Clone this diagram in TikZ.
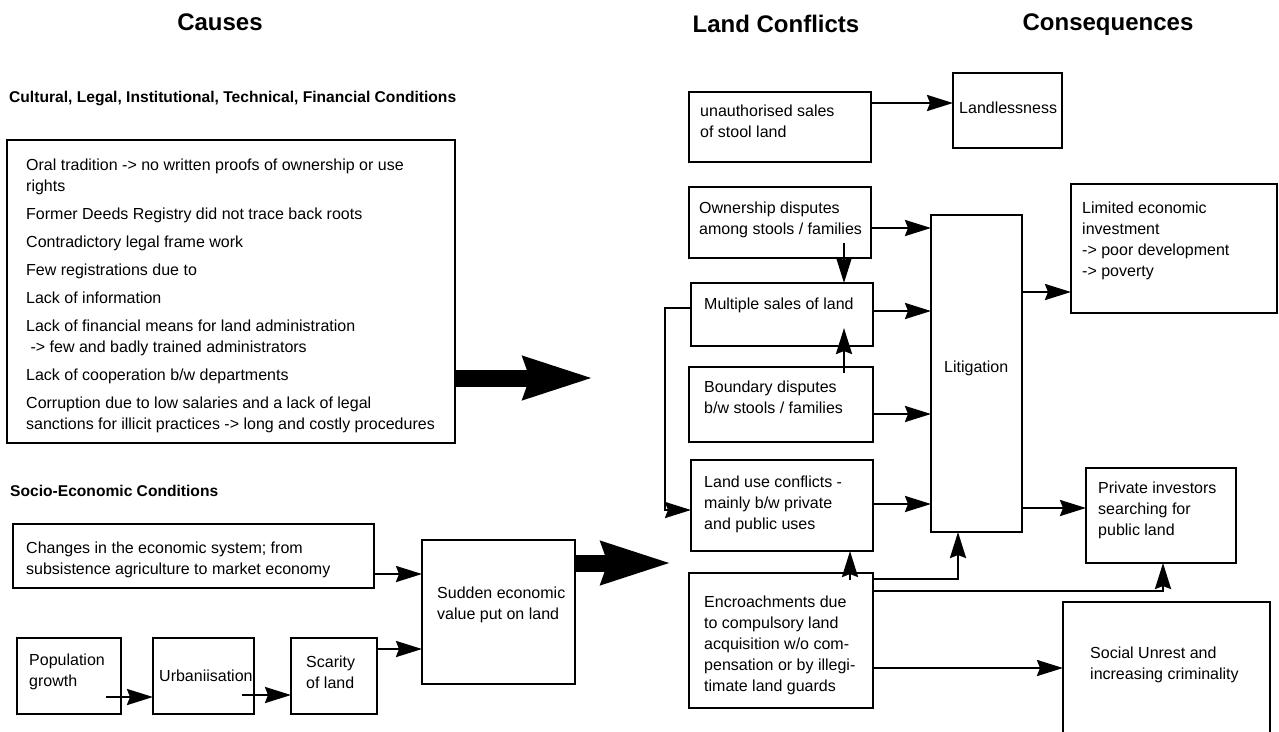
\documentclass[tikz,border=0pt]{standalone}
\usepackage{fontspec}
\setmainfont{Liberation Sans}
\usetikzlibrary{arrows.meta, calc}

\begin{document}
\begin{tikzpicture}[
  x=1pt, y=-1pt,
  box/.style={draw, line width=2.6pt, anchor=north west, inner sep=0pt, outer sep=0pt},
  txt/.style={anchor=base west, align=left, inner sep=0pt, font=\fontsize{16}{21}\selectfont},
  title/.style={anchor=base, inner sep=0pt, font=\fontsize{24}{28}\selectfont\bfseries},
  head/.style={anchor=base west, inner sep=0pt, font=\fontsize{15.6}{19}\selectfont\bfseries},
  arr/.style={-{Stealth[length=26pt, width=16pt, inset=3pt]}, line width=2.5pt},
  fat/.style={-{Stealth[length=69pt, width=40pt, inset=5pt]}, line width=17pt},
]
\useasboundingbox (0,0) rectangle (1279,731);
\clip (0,0) rectangle (1279,731);

% column titles
\node[title] (t-causes) at (220,30) {Causes};
\node[title] (t-conflicts) at (776,32) {Land Conflicts};
\node[title] (t-conseq) at (1108,30) {Consequences};
\node[head] (h-cult) at (9,102) {Cultural, Legal, Institutional, Technical, Financial Conditions};
\node[head] (h-socio) at (10,496) {Socio-Economic Conditions};

% causes (text nodes sit on the baseline of their last line)
\node[box, minimum width=448, minimum height=303] (big) at (7,140) {};
\node[txt] (big-t) at (26,429) {Oral tradition -> no written proofs of ownership or use\\rights\\[7pt]Former Deeds Registry did not trace back roots\\[7pt]Contradictory legal frame work\\[7pt]Few registrations due to\\[7pt]Lack of information\\[7pt]Lack of financial means for land administration\\\ -> few and badly trained administrators\\[7pt]Lack of cooperation b/w departments\\[7pt]Corruption due to low salaries and a lack of legal\\sanctions for illicit practices -> long and costly procedures};
\node[box, minimum width=361, minimum height=64] (changes) at (13,524) {};
\node[txt] (changes-t) at (26,574) {Changes in the economic system; from\\subsistence agriculture to market economy};
\node[box, minimum width=153, minimum height=144] (sudden) at (422,540) {};
\node[txt] (sudden-t) at (437,619) {Sudden economic\\value put on land};
\node[box, minimum width=104, minimum height=76] (pop) at (17,638) {};
\node[txt] (pop-t) at (29,686) {Population\\growth};
\node[box, minimum width=101, minimum height=76] (urban) at (153,638) {};
\node[txt] (urban-t) at (159,681) {Urbaniisation};
\node[box, minimum width=86, minimum height=76] (scarity) at (291,638) {};
\node[txt] (scarity-t) at (306,688) {Scarity\\of land};

% land conflicts
\node[box, minimum width=182, minimum height=70] (unauth) at (689,92) {};
\node[txt] (unauth-t) at (700,137) {unauthorised sales\\of stool land};
\node[box, minimum width=182, minimum height=71] (own) at (689,187) {};
\node[txt] (own-t) at (699,234) {Ownership disputes\\among stools / families};
\node[box, minimum width=182, minimum height=63] (mult) at (691,283) {};
\node[txt] (mult-t) at (704,309) {Multiple sales of land};
\node[box, minimum width=184, minimum height=75] (bound) at (689,367) {};
\node[txt] (bound-t) at (704,413) {Boundary disputes\\b/w stools / families};
\node[box, minimum width=182, minimum height=91] (landuse) at (691,460) {};
\node[txt] (landuse-t) at (704,529) {Land use conflicts -\\mainly b/w private\\and public uses};
\node[box, minimum width=184, minimum height=135] (enc) at (689,573) {};
\node[txt] (enc-t) at (704,691) {Encroachments due\\to compulsory land\\acquisition w/o com-\\pensation or by illegi-\\timate land guards};
\node[box, minimum width=91, minimum height=317] (lit) at (931,215) {};
\node[txt] (lit-t) at (944,372) {Litigation};

% consequences
\node[box, minimum width=109, minimum height=75] (landless) at (953,73) {};
\node[txt] (landless-t) at (959,113) {Landlessness};
\node[box, minimum width=206, minimum height=129] (limited) at (1071,184) {};
\node[txt] (limited-t) at (1082,276) {Limited economic\\investment\\-> poor development\\-> poverty};
\node[box, minimum width=150, minimum height=95] (priv) at (1086,468) {};
\node[txt] (priv-t) at (1098,535) {Private investors\\searching for\\public land};
\node[box, minimum width=207, minimum height=140] (social) at (1063,602) {};
\node[txt] (social-t) at (1090,679) {Social Unrest and\\increasing criminality};

% fat arrows
\coordinate (fat1) at (594,378);
\coordinate (fat2) at (672,563);
\draw[fat] (big.east |- 0,378) -- (fat1);
\draw[fat] (sudden.east |- 0,563) -- (fat2);

% connectors
\draw[arr] (changes.east |- 0,574) -- (sudden.west |- 0,574);
\draw[arr] ($(pop.east |- 0,697)+(-15,0)$) -- (urban.west |- 0,697);
\draw[arr] ($(urban.east |- 0,695)+(-12,0)$) -- (scarity.west |- 0,695);
\draw[arr] (scarity.east |- 0,649) -- (sudden.west |- 0,649);

\draw[arr] (unauth.east |- 0,103) -- (landless.west |- 0,103);
\draw[arr] (own.east |- 0,228) -- (lit.west |- 0,228);
\draw[arr] ($(own.south -| 844,0)+(0,-15)$) -- (mult.north -| 844,0);
\draw[arr] (mult.east |- 0,311) -- (lit.west |- 0,311);
\draw[arr] ($(bound.north -| 844,0)+(0,6)$) -- ($(mult.south -| 844,0)+(0,-18)$);
\draw[arr] (bound.east |- 0,414) -- (lit.west |- 0,414);
\draw[arr] (mult.west |- 0,308) -- ++(-26,0) |- (landuse.west |- 0,510);
\draw[arr] (landuse.east |- 0,504) -- (lit.west |- 0,504);
\draw[arr] ($(enc.north -| 850,0)+(0,7)$) -- (landuse.south -| 850,0);
\draw[arr] (enc.east |- 0,579) -| (lit.south -| 958,0);
\draw[arr] (enc.east |- 0,591) -| (priv.south -| 1163,0);
\draw[arr] (enc.east |- 0,668) -- (social.west |- 0,668);
\draw[arr] (lit.east |- 0,292) -- (limited.west |- 0,292);
\draw[arr] (lit.east |- 0,508) -- (priv.west |- 0,508);
\end{tikzpicture}
\end{document}
